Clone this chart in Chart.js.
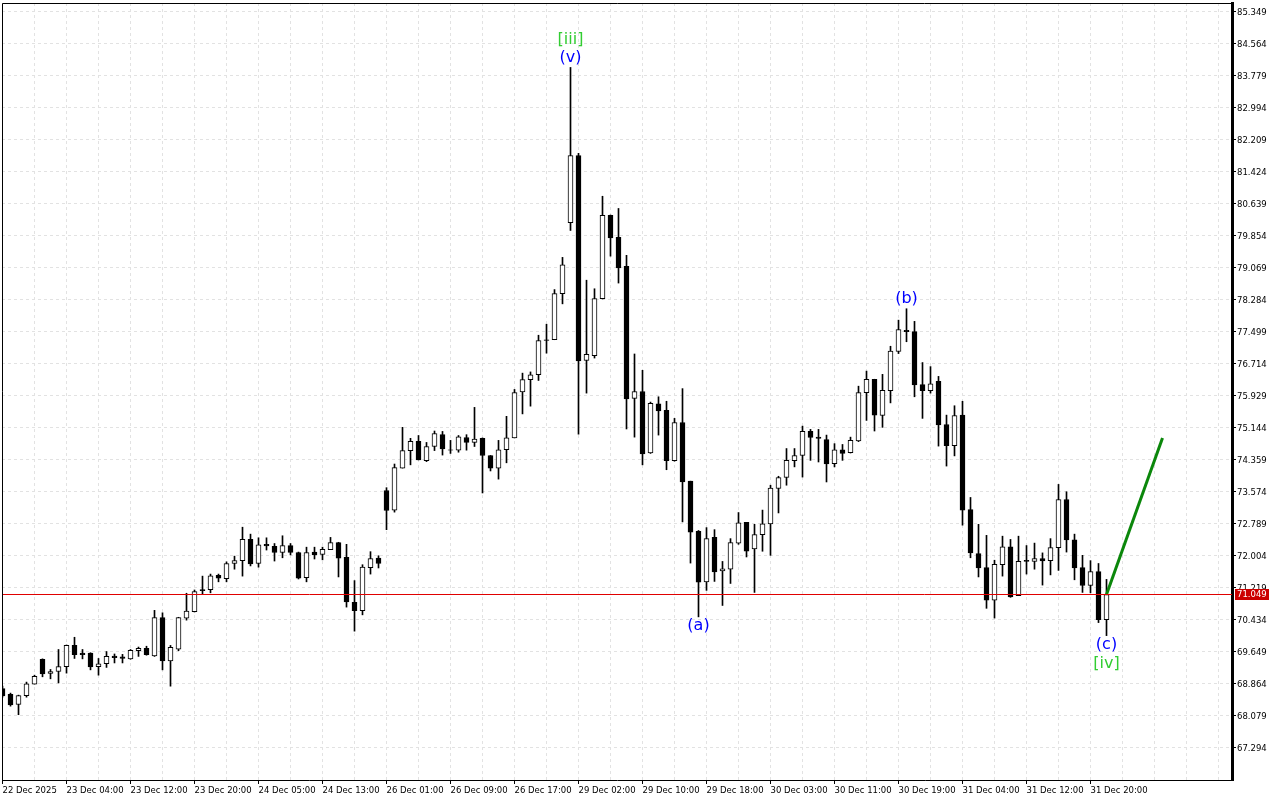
<!DOCTYPE html>
<html><head><meta charset="utf-8">
<script src="https://cdn.jsdelivr.net/npm/chart.js@4.4.1/dist/chart.umd.min.js"></script>
<style>html,body{margin:0;padding:0;background:#fff;overflow:hidden}#wrap{width:1280px;height:800px}</style>
</head><body><div id="wrap"><canvas id="c" width="1280" height="800"></canvas></div>
<script>
const xTickLabels = ['22 Dec 2025','23 Dec 04:00','23 Dec 12:00','23 Dec 20:00','24 Dec 05:00','24 Dec 13:00','26 Dec 01:00','26 Dec 09:00','26 Dec 17:00','29 Dec 02:00','29 Dec 10:00','29 Dec 18:00','30 Dec 03:00','30 Dec 11:00','30 Dec 19:00','31 Dec 04:00','31 Dec 12:00','31 Dec 20:00'];
const yTickValues = [85.349,84.564,83.779,82.994,82.209,81.424,80.639,79.854,79.069,78.284,77.499,76.714,75.929,75.144,74.359,73.574,72.789,72.004,71.219,70.434,69.649,68.864,68.079,67.294];

const opens = [68.74,68.60,68.35,68.57,68.85,69.46,69.11,69.16,69.28,69.80,
69.61,69.61,69.28,69.35,69.54,69.52,69.47,69.67,69.73,69.54,
70.48,69.42,69.71,70.47,70.63,71.17,71.17,71.52,71.44,71.81,
71.88,72.40,71.81,72.28,72.23,72.08,72.25,72.08,71.46,72.09,
72.03,72.15,72.32,71.96,70.86,70.65,71.71,71.94,73.60,73.12,
74.15,74.58,74.81,74.33,74.68,74.97,74.60,74.59,74.90,74.78,
74.88,74.46,74.15,74.60,74.89,76.02,76.32,76.44,77.30,77.30,
78.43,80.17,81.82,76.79,76.91,78.31,80.35,79.81,79.10,75.86,
76.03,74.52,75.73,75.57,74.33,75.27,73.83,72.60,71.36,72.45,
71.63,71.67,72.31,72.82,72.17,72.52,72.78,73.65,73.92,74.33,
74.46,75.05,74.91,74.85,74.26,74.60,74.53,74.82,76.00,76.33,
75.44,76.05,77.01,77.53,77.50,76.20,76.05,76.28,75.22,74.70,
75.45,73.13,72.05,71.71,70.91,71.78,72.22,71.02,71.89,71.86,
71.93,71.88,72.20,73.38,72.39,71.71,71.27,71.61,70.43];
const highs = [68.80,68.63,68.58,68.90,69.07,69.47,69.21,69.70,69.81,70.00,
69.70,69.62,69.48,69.65,69.59,69.58,69.70,69.76,69.78,70.66,
70.60,69.80,70.49,71.08,71.16,71.50,71.55,71.55,71.85,71.99,
72.70,72.53,72.44,72.44,72.30,72.49,72.30,72.09,72.21,72.21,
72.21,72.45,72.33,72.28,71.39,71.78,72.10,72.00,73.67,74.25,
75.15,74.88,74.95,74.78,75.06,75.05,74.83,74.95,74.97,75.64,
74.89,74.46,74.83,75.42,76.08,76.48,76.51,77.41,77.68,78.53,
79.32,83.98,81.87,78.76,78.55,80.82,80.36,80.52,79.37,76.95,
76.55,75.77,75.90,75.79,75.37,76.10,73.83,72.62,72.69,72.64,
71.86,72.42,73.06,72.82,72.77,73.12,73.73,73.95,74.63,74.63,
75.18,75.10,75.10,74.96,74.75,74.73,74.91,76.16,76.53,76.33,
76.45,77.14,77.78,78.06,77.75,76.74,76.64,76.40,75.45,75.68,
75.79,73.43,72.77,72.50,71.89,72.48,72.40,72.48,72.25,72.31,
72.07,72.42,73.75,73.57,72.53,72.01,71.88,71.81,71.42];
const lows = [68.53,68.31,68.10,68.53,68.85,69.03,68.98,68.88,69.12,69.48,
69.47,69.20,69.07,69.26,69.37,69.37,69.46,69.53,69.56,69.53,
69.20,68.80,69.67,70.42,70.62,71.05,71.09,71.36,71.36,71.67,
71.50,71.75,71.72,72.14,71.87,71.95,72.02,71.43,71.36,71.92,
71.90,72.15,71.48,70.74,70.15,70.55,71.55,71.70,72.64,73.07,
74.15,74.23,74.35,74.31,74.58,74.47,74.51,74.54,74.59,74.68,
73.54,74.08,73.88,74.28,74.89,75.48,75.67,76.30,76.97,77.30,
78.18,79.98,74.98,75.99,76.85,78.30,79.35,78.69,75.11,74.91,
74.23,74.51,74.96,74.11,74.32,72.83,71.82,70.50,71.15,71.37,
70.78,71.32,72.28,71.97,71.10,72.11,72.01,73.05,73.73,74.18,
73.93,74.34,74.30,73.81,74.18,74.34,74.52,74.80,75.32,75.06,
75.15,75.75,76.96,77.25,75.90,75.37,75.99,74.69,74.20,74.45,
72.75,71.95,71.48,70.71,70.47,71.50,70.98,71.02,71.55,71.67,
71.28,71.53,71.64,72.09,71.41,71.10,71.09,70.36,70.04];
const closes = [68.56,68.34,68.57,68.86,69.04,69.10,69.16,69.28,69.80,69.57,
69.57,69.27,69.35,69.53,69.50,69.48,69.68,69.73,69.57,70.48,
69.42,69.75,70.48,70.64,71.12,71.14,71.51,71.45,71.81,71.88,
72.40,71.80,72.27,72.24,72.08,72.25,72.08,71.45,72.08,72.02,
72.16,72.32,71.94,70.87,70.65,71.72,71.93,71.81,73.11,74.16,
74.58,74.81,74.35,74.68,75.00,74.62,74.59,74.92,74.78,74.86,
74.46,74.15,74.60,74.89,76.00,76.32,76.44,77.28,77.28,78.43,
79.14,81.82,76.78,76.94,78.31,80.35,79.80,79.06,75.85,76.03,
74.50,75.74,75.55,74.33,75.27,73.81,72.58,71.35,72.42,71.60,
71.68,72.32,72.81,72.11,72.52,72.78,73.66,73.92,74.34,74.46,
75.05,74.90,74.88,74.25,74.60,74.51,74.83,76.00,76.33,75.45,
76.06,77.02,77.55,77.50,76.19,76.05,76.22,75.21,74.70,75.44,
73.12,72.07,71.70,70.91,71.79,72.22,70.99,71.86,71.86,71.93,
71.87,72.20,73.38,72.39,71.70,71.27,71.61,70.43,71.049];

const currentPrice = 71.049;
const forecastIndex = [138, 145];
const forecastPrice = [71.049, 74.89];
const waveText = ['[iii]','(v)','(a)','(b)','(c)','[iv]'];
const waveCandle = [71, 71, 87, 113, 138, 138];
const waveSide = ['high2','high','low','high','low','low2'];
const waveColor = ['#32cd32','#0000ff','#0000ff','#0000ff','#0000ff','#32cd32'];

const X_MIN = -0.0625, X_MAX = 153.6875;
const Y_MAX = 85.561, Y_MIN = 66.498;
const AXIS_FONT = {family: '"DejaVu Sans", Tahoma, sans-serif', size: 8.5};

const n = closes.length;
const wickData = [], bodyData = [];
for (let i = 0; i < n; i++) {
  wickData.push({x: i, y: [lows[i], highs[i]]});
  bodyData.push({x: i, y: [Math.min(opens[i], closes[i]), Math.max(opens[i], closes[i])]});
}

const noPad = s => { s.paddingTop = 0; s.paddingBottom = 0; s.paddingLeft = 0; s.paddingRight = 0; };

const overlay = {
  id: 'overlay',
  afterDatasetsDraw(chart) {
    const {ctx, scales: {x, y}} = chart;
    ctx.save();
    ctx.font = '16px "DejaVu Sans", sans-serif';
    ctx.textAlign = 'center';
    ctx.textBaseline = 'middle';
    const off = {high: -10, high2: -28, low: 9, low2: 28};
    for (let i = 0; i < waveText.length; i++) {
      const c = waveCandle[i];
      const s = waveSide[i];
      const base = s.startsWith('high') ? highs[c] : lows[c];
      ctx.fillStyle = waveColor[i];
      ctx.fillText(waveText[i], x.getPixelForValue(c), y.getPixelForValue(base) + off[s]);
    }
    ctx.restore();
  },
  afterDraw(chart) {
    const {ctx, chartArea: a, scales: {y}} = chart;
    ctx.save();
    ctx.strokeStyle = '#000';
    ctx.lineWidth = 1;
    ctx.beginPath();
    ctx.moveTo(a.left + 0.5, a.bottom);
    ctx.lineTo(a.left + 0.5, a.top + 0.5);
    ctx.lineTo(a.right, a.top + 0.5);
    ctx.stroke();
    const py = Math.floor(y.getPixelForValue(currentPrice));
    ctx.fillStyle = '#cc0000';
    ctx.fillRect(a.right + 3, py - 5, 34, 11);
    ctx.fillStyle = '#fff';
    ctx.font = '8.5px "DejaVu Sans", Tahoma, sans-serif';
    ctx.textAlign = 'left';
    ctx.textBaseline = 'middle';
    ctx.fillText(currentPrice.toFixed(3), a.right + 5, py + 1);
    ctx.restore();
  }
};

new Chart(document.getElementById('c'), {
  type: 'bar',
  data: {
    datasets: [
      {type: 'line', data: [{x: X_MIN, y: currentPrice}, {x: X_MAX, y: currentPrice}], borderColor: '#e00000', borderWidth: 1, pointRadius: 0, order: 0},
      {type: 'line', data: forecastIndex.map((v, i) => ({x: v, y: forecastPrice[i]})), borderColor: '#0b870b', borderWidth: 3, pointRadius: 0, order: 0},
      {data: bodyData, backgroundColor: c => (closes[c.dataIndex] >= opens[c.dataIndex] ? '#ffffff' : '#000000'), borderColor: '#000', borderWidth: 1, borderSkipped: false, barThickness: 5, grouped: false, order: 1},
      {data: wickData, backgroundColor: '#000', borderWidth: 0, barThickness: 1, grouped: false, order: 2}
    ]
  },
  options: {
    responsive: false, animation: false, events: [],
    layout: {padding: {left: 2, top: 3, right: 0, bottom: 0}},
    plugins: {legend: {display: false}, tooltip: {enabled: false}},
    scales: {
      x: {
        type: 'linear', position: 'bottom', min: X_MIN, max: X_MAX, offset: false,
        afterBuildTicks: s => { const t = []; for (let v = 0; v <= 152; v += 4) t.push({value: v}); s.ticks = t; },
        afterFit: s => { s.height = 20; noPad(s); },
        ticks: {autoSkip: false, maxRotation: 0, minRotation: 0, align: 'start', padding: 2, color: '#000', font: AXIS_FONT,
          callback: v => (v % 8 === 0 && v / 8 < xTickLabels.length ? xTickLabels[v / 8] : '')},
        grid: {offset: false, color: '#e2e2e2', lineWidth: 1, tickLength: 4, tickColor: c => (c.tick && c.tick.value % 8 === 0 && c.tick.value / 8 < xTickLabels.length ? '#000' : 'rgba(0,0,0,0)')},
        border: {display: true, color: '#000', width: 1, dash: [3, 3]}
      },
      y: {
        type: 'linear', position: 'right', min: Y_MIN, max: Y_MAX,
        afterBuildTicks: s => { s.ticks = yTickValues.slice().reverse().map(v => ({value: v})); },
        afterFit: s => { s.width = 48; noPad(s); },
        ticks: {autoSkip: false, padding: 1, labelOffset: 1.5, color: '#000', font: AXIS_FONT, callback: v => v.toFixed(3)},
        grid: {color: '#e2e2e2', lineWidth: 1, tickLength: 4, tickColor: '#000'},
        border: {display: true, color: '#000', width: 3, dash: [3, 3]}
      }
    }
  },
  plugins: [overlay]
});
</script></body></html>
